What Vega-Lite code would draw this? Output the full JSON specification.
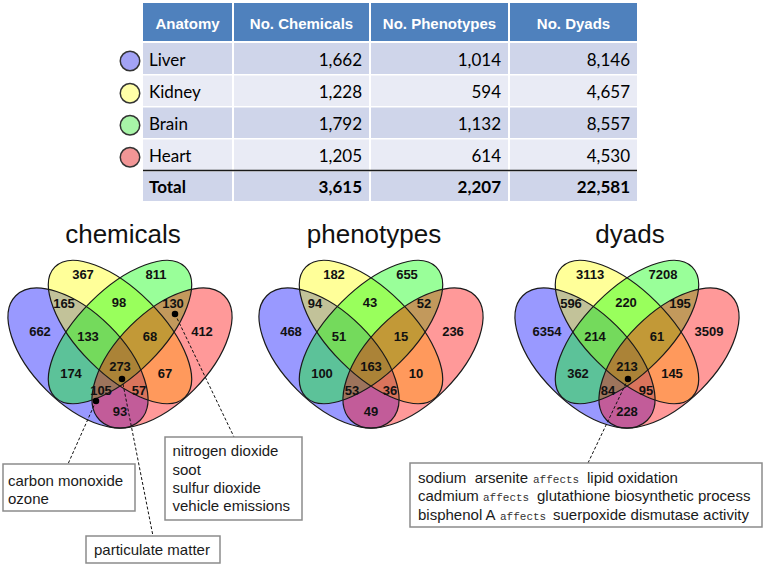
{
  "$schema": "https://vega.github.io/schema/vega-lite/v6.json",
  "width": 766,
  "height": 564,
  "autosize": {"type": "fit", "contains": "padding"},
  "padding": 0,
  "background": "#ffffff",
  "config": {"view": {"stroke": null}},
  "datasets": {
    "cols": [
      {"col": "key", "x0": 120, "x1": 140, "xm": 130},
      {"col": "Anatomy", "x0": 143, "x1": 232, "xm": 187.5},
      {"col": "No. Chemicals", "x0": 234, "x1": 369, "xm": 301.5},
      {"col": "No. Phenotypes", "x0": 371, "x1": 508, "xm": 439.5},
      {"col": "No. Dyads", "x0": 510, "x1": 637, "xm": 573.5}
    ],
    "rows": [
      {"row": "header", "y0": 3, "y1": 41, "ym": 22, "band": "header"},
      {"row": "Liver", "y0": 43, "y1": 74, "ym": 58.5, "band": "dark"},
      {"row": "Kidney", "y0": 75.5, "y1": 106, "ym": 90.75, "band": "light"},
      {"row": "Brain", "y0": 107.5, "y1": 138, "ym": 122.75, "band": "dark"},
      {"row": "Heart", "y0": 139.5, "y1": 170, "ym": 154.75, "band": "light"},
      {"row": "Total", "y0": 171.5, "y1": 201, "ym": 186.25, "band": "dark"}
    ],
    "cells": [
      {"row": "header", "col": "Anatomy", "label": "Anatomy"},
      {"row": "header", "col": "No. Chemicals", "label": "No. Chemicals"},
      {"row": "header", "col": "No. Phenotypes", "label": "No. Phenotypes"},
      {"row": "header", "col": "No. Dyads", "label": "No. Dyads"},
      {"row": "Liver", "col": "key", "label": ""},
      {"row": "Liver", "col": "Anatomy", "label": "Liver"},
      {"row": "Liver", "col": "No. Chemicals", "label": "1,662"},
      {"row": "Liver", "col": "No. Phenotypes", "label": "1,014"},
      {"row": "Liver", "col": "No. Dyads", "label": "8,146"},
      {"row": "Kidney", "col": "key", "label": ""},
      {"row": "Kidney", "col": "Anatomy", "label": "Kidney"},
      {"row": "Kidney", "col": "No. Chemicals", "label": "1,228"},
      {"row": "Kidney", "col": "No. Phenotypes", "label": "594"},
      {"row": "Kidney", "col": "No. Dyads", "label": "4,657"},
      {"row": "Brain", "col": "key", "label": ""},
      {"row": "Brain", "col": "Anatomy", "label": "Brain"},
      {"row": "Brain", "col": "No. Chemicals", "label": "1,792"},
      {"row": "Brain", "col": "No. Phenotypes", "label": "1,132"},
      {"row": "Brain", "col": "No. Dyads", "label": "8,557"},
      {"row": "Heart", "col": "key", "label": ""},
      {"row": "Heart", "col": "Anatomy", "label": "Heart"},
      {"row": "Heart", "col": "No. Chemicals", "label": "1,205"},
      {"row": "Heart", "col": "No. Phenotypes", "label": "614"},
      {"row": "Heart", "col": "No. Dyads", "label": "4,530"},
      {"row": "Total", "col": "Anatomy", "label": "Total"},
      {"row": "Total", "col": "No. Chemicals", "label": "3,615"},
      {"row": "Total", "col": "No. Phenotypes", "label": "2,207"},
      {"row": "Total", "col": "No. Dyads", "label": "22,581"}
    ],
    "tableLine": [{"lx0": 143, "lx1": 637, "ly": 170.5}],
    "ellipses": [
      {"set": "Liver", "u": -42, "y": 358},
      {"set": "Kidney", "u": 0, "y": 332},
      {"set": "Brain", "u": 0, "y": 332},
      {"set": "Heart", "u": 42, "y": 358}
    ],
    "regions": [
      {"region": "K", "u": -37, "y": 275},
      {"region": "B", "u": 36, "y": 275},
      {"region": "LK", "u": -56, "y": 304},
      {"region": "KB", "u": -1, "y": 303},
      {"region": "BH", "u": 53, "y": 304},
      {"region": "L", "u": -80, "y": 332},
      {"region": "H", "u": 82, "y": 332},
      {"region": "LKB", "u": -32, "y": 337},
      {"region": "KBH", "u": 30, "y": 337},
      {"region": "LB", "u": -49, "y": 374},
      {"region": "LKBH", "u": 0, "y": 367},
      {"region": "KH", "u": 45, "y": 374},
      {"region": "LBH", "u": -19, "y": 391},
      {"region": "LKH", "u": 19, "y": 391},
      {"region": "LH", "u": 0, "y": 412}
    ],
    "counts": [
      {"diagram": "chemicals", "region": "K", "n": 367},
      {"diagram": "chemicals", "region": "B", "n": 811},
      {"diagram": "chemicals", "region": "LK", "n": 165},
      {"diagram": "chemicals", "region": "KB", "n": 98},
      {"diagram": "chemicals", "region": "BH", "n": 130},
      {"diagram": "chemicals", "region": "L", "n": 662},
      {"diagram": "chemicals", "region": "H", "n": 412},
      {"diagram": "chemicals", "region": "LKB", "n": 133},
      {"diagram": "chemicals", "region": "KBH", "n": 68},
      {"diagram": "chemicals", "region": "LB", "n": 174},
      {"diagram": "chemicals", "region": "LKBH", "n": 273},
      {"diagram": "chemicals", "region": "KH", "n": 67},
      {"diagram": "chemicals", "region": "LBH", "n": 105},
      {"diagram": "chemicals", "region": "LKH", "n": 57},
      {"diagram": "chemicals", "region": "LH", "n": 93},
      {"diagram": "phenotypes", "region": "K", "n": 182},
      {"diagram": "phenotypes", "region": "B", "n": 655},
      {"diagram": "phenotypes", "region": "LK", "n": 94},
      {"diagram": "phenotypes", "region": "KB", "n": 43},
      {"diagram": "phenotypes", "region": "BH", "n": 52},
      {"diagram": "phenotypes", "region": "L", "n": 468},
      {"diagram": "phenotypes", "region": "H", "n": 236},
      {"diagram": "phenotypes", "region": "LKB", "n": 51},
      {"diagram": "phenotypes", "region": "KBH", "n": 15},
      {"diagram": "phenotypes", "region": "LB", "n": 100},
      {"diagram": "phenotypes", "region": "LKBH", "n": 163},
      {"diagram": "phenotypes", "region": "KH", "n": 10},
      {"diagram": "phenotypes", "region": "LBH", "n": 53},
      {"diagram": "phenotypes", "region": "LKH", "n": 36},
      {"diagram": "phenotypes", "region": "LH", "n": 49},
      {"diagram": "dyads", "region": "K", "n": 3113},
      {"diagram": "dyads", "region": "B", "n": 7208},
      {"diagram": "dyads", "region": "LK", "n": 596},
      {"diagram": "dyads", "region": "KB", "n": 220},
      {"diagram": "dyads", "region": "BH", "n": 195},
      {"diagram": "dyads", "region": "L", "n": 6354},
      {"diagram": "dyads", "region": "H", "n": 3509},
      {"diagram": "dyads", "region": "LKB", "n": 214},
      {"diagram": "dyads", "region": "KBH", "n": 61},
      {"diagram": "dyads", "region": "LB", "n": 362},
      {"diagram": "dyads", "region": "LKBH", "n": 213},
      {"diagram": "dyads", "region": "KH", "n": 145},
      {"diagram": "dyads", "region": "LBH", "n": 84},
      {"diagram": "dyads", "region": "LKH", "n": 95},
      {"diagram": "dyads", "region": "LH", "n": 228}
    ],
    "titles": [
      {"diagram": "chemicals", "u": 3, "y": 243},
      {"diagram": "phenotypes", "u": 3, "y": 243},
      {"diagram": "dyads", "u": 3, "y": 243}
    ],
    "leaders": [
      {"x": 175, "y": 314, "x2": 234, "y2": 437},
      {"x": 122, "y": 379, "x2": 153, "y2": 536},
      {"x": 96, "y": 401, "x2": 68, "y2": 464},
      {"x": 628, "y": 379, "x2": 588, "y2": 463}
    ],
    "boxes": [
      {"x0": 3, "x1": 135, "y0": 464, "y1": 511},
      {"x0": 165, "x1": 302, "y0": 437, "y1": 520},
      {"x0": 86, "x1": 220, "y0": 536, "y1": 563},
      {"x0": 410, "x1": 762, "y0": 463, "y1": 527}
    ],
    "notes": [
      {"kind": "term", "x": 8, "y": 485.5, "text": "carbon monoxide"},
      {"kind": "term", "x": 8, "y": 503.5, "text": "ozone"},
      {"kind": "term", "x": 172.5, "y": 456, "text": "nitrogen dioxide"},
      {"kind": "term", "x": 172.5, "y": 474.5, "text": "soot"},
      {"kind": "term", "x": 172.5, "y": 493, "text": "sulfur dioxide"},
      {"kind": "term", "x": 172.5, "y": 511, "text": "vehicle emissions"},
      {"kind": "term", "x": 94, "y": 555, "text": "particulate matter"},
      {"kind": "term", "x": 418, "y": 482.5, "text": "sodium\u00a0 arsenite"},
      {"kind": "verb", "x": 533, "y": 482.5, "text": "affects"},
      {"kind": "term", "x": 587, "y": 482.5, "text": "lipid oxidation"},
      {"kind": "term", "x": 418, "y": 501, "text": "cadmium"},
      {"kind": "verb", "x": 483, "y": 501, "text": "affects"},
      {"kind": "term", "x": 537, "y": 501, "text": "glutathione biosynthetic process"},
      {"kind": "term", "x": 418, "y": 519.5, "text": "bisphenol A"},
      {"kind": "verb", "x": 500, "y": 519.5, "text": "affects"},
      {"kind": "term", "x": 553, "y": 519.5, "text": "suerpoxide dismutase activity"}
    ]
  },
  "resolve": {"scale": {"x": "independent", "y": "independent", "color": "independent", "shape": "independent", "fill": "independent"}},
  "layer": [
    {
      "data": {"name": "cells"},
      "transform": [
        {"lookup": "col", "from": {"data": {"name": "cols"}, "key": "col", "fields": ["x0", "x1", "xm"]}},
        {"lookup": "row", "from": {"data": {"name": "rows"}, "key": "row", "fields": ["y0", "y1", "ym", "band"]}}
      ],
      "layer": [
        {
          "transform": [{"filter": "datum.col !== 'key'"}],
          "mark": {"type": "rect"},
          "encoding": {
            "x": {"field": "x0", "type": "quantitative", "scale": {"domain": [0, 766], "nice": false, "zero": false}, "axis": null},
            "x2": {"field": "x1"},
            "y": {"field": "y0", "type": "quantitative", "scale": {"domain": [0, 564], "reverse": true, "nice": false, "zero": false}, "axis": null},
            "y2": {"field": "y1"},
            "color": {"field": "band", "type": "nominal", "scale": {"domain": ["header", "dark", "light"], "range": ["#4f81bd", "#cfd5ea", "#e9ebf5"]}, "legend": null}
          }
        },
        {
          "data": {"name": "tableLine"},
          "mark": {"type": "rule", "color": "#1a1a1a", "strokeWidth": 1.5},
          "encoding": {
            "x": {"field": "lx0", "type": "quantitative", "scale": {"domain": [0, 766], "nice": false, "zero": false}, "axis": null},
            "x2": {"field": "lx1"},
            "y": {"field": "ly", "type": "quantitative", "scale": {"domain": [0, 564], "reverse": true, "nice": false, "zero": false}, "axis": null}
          }
        },
        {
          "transform": [{"filter": "datum.row === 'header'"}],
          "mark": {"type": "text", "font": "Liberation Sans", "fontWeight": "bold", "fontSize": 15, "color": "#ffffff", "align": "center", "baseline": "middle", "dy": 2},
          "encoding": {
            "x": {"field": "xm", "type": "quantitative", "scale": {"domain": [0, 766], "nice": false, "zero": false}, "axis": null},
            "y": {"field": "ym", "type": "quantitative", "scale": {"domain": [0, 564], "reverse": true, "nice": false, "zero": false}, "axis": null},
            "text": {"field": "label", "type": "nominal"}
          }
        },
        {
          "transform": [{"filter": "datum.col === 'Anatomy' && datum.row !== 'header' && datum.row !== 'Total'"}],
          "mark": {"type": "text", "font": "Lato", "fontSize": 17, "color": "#000000", "align": "left", "baseline": "middle", "dx": 6, "dy": 2},
          "encoding": {
            "x": {"field": "x0", "type": "quantitative", "scale": {"domain": [0, 766], "nice": false, "zero": false}, "axis": null},
            "y": {"field": "ym", "type": "quantitative", "scale": {"domain": [0, 564], "reverse": true, "nice": false, "zero": false}, "axis": null},
            "text": {"field": "label", "type": "nominal"}
          }
        },
        {
          "transform": [{"filter": "datum.col === 'Anatomy' && datum.row === 'Total'"}],
          "mark": {"type": "text", "font": "Lato", "fontSize": 17, "fontWeight": "bold", "color": "#000000", "align": "left", "baseline": "middle", "dx": 6, "dy": 2},
          "encoding": {
            "x": {"field": "x0", "type": "quantitative", "scale": {"domain": [0, 766], "nice": false, "zero": false}, "axis": null},
            "y": {"field": "ym", "type": "quantitative", "scale": {"domain": [0, 564], "reverse": true, "nice": false, "zero": false}, "axis": null},
            "text": {"field": "label", "type": "nominal"}
          }
        },
        {
          "transform": [{"filter": "datum.col !== 'Anatomy' && datum.col !== 'key' && datum.row !== 'header' && datum.row !== 'Total'"}],
          "mark": {"type": "text", "font": "Lato", "fontSize": 17, "color": "#000000", "align": "right", "baseline": "middle", "dx": -7, "dy": 2},
          "encoding": {
            "x": {"field": "x1", "type": "quantitative", "scale": {"domain": [0, 766], "nice": false, "zero": false}, "axis": null},
            "y": {"field": "ym", "type": "quantitative", "scale": {"domain": [0, 564], "reverse": true, "nice": false, "zero": false}, "axis": null},
            "text": {"field": "label", "type": "nominal"}
          }
        },
        {
          "transform": [{"filter": "datum.col !== 'Anatomy' && datum.col !== 'key' && datum.row === 'Total'"}],
          "mark": {"type": "text", "font": "Lato", "fontSize": 17, "fontWeight": "bold", "color": "#000000", "align": "right", "baseline": "middle", "dx": -7, "dy": 2},
          "encoding": {
            "x": {"field": "x1", "type": "quantitative", "scale": {"domain": [0, 766], "nice": false, "zero": false}, "axis": null},
            "y": {"field": "ym", "type": "quantitative", "scale": {"domain": [0, 564], "reverse": true, "nice": false, "zero": false}, "axis": null},
            "text": {"field": "label", "type": "nominal"}
          }
        },
        {
          "transform": [{"filter": "datum.col === 'key'"}],
          "mark": {"type": "point", "shape": "circle", "filled": true, "size": 380, "stroke": "#333333", "strokeWidth": 1.5, "opacity": 1},
          "encoding": {
            "x": {"field": "xm", "type": "quantitative", "scale": {"domain": [0, 766], "nice": false, "zero": false}, "axis": null},
            "y": {"field": "ym", "type": "quantitative", "scale": {"domain": [0, 564], "reverse": true, "nice": false, "zero": false}, "axis": null},
            "yOffset": {"value": 2.5},
            "fill": {"field": "row", "type": "nominal", "scale": {"domain": ["Liver", "Kidney", "Brain", "Heart"], "range": ["#a3a3f5", "#ffffa8", "#a8f5a8", "#f29696"]}, "legend": null}
          }
        }
      ]
    },
    {
      "layer": [
        {
          "data": {"name": "ellipses"},
          "mark": {"type": "point", "filled": true, "size": 30976, "fillOpacity": 0.4, "opacity": 1, "strokeWidth": 0},
          "encoding": {
            "x": {"field": "u", "type": "quantitative", "scale": {"domain": [-120, 646], "nice": false, "zero": false}, "axis": null},
            "y": {"field": "y", "type": "quantitative", "scale": {"domain": [0, 564], "reverse": true, "nice": false, "zero": false}, "axis": null},
            "shape": {"field": "set", "type": "nominal", "scale": {"domain": ["Liver", "Kidney", "Brain", "Heart"], "range": ["M -0.70711 -0.70711 A 1 0.51136 45 1 0 0.70711 0.70711 A 1 0.51136 45 1 0 -0.70711 -0.70711 Z", "M -0.73925 -0.73925 A 1.04545 0.47727 45 1 0 0.73925 0.73925 A 1.04545 0.47727 45 1 0 -0.73925 -0.73925 Z", "M -0.73925 0.73925 A 1.04545 0.47727 -45 1 0 0.73925 -0.73925 A 1.04545 0.47727 -45 1 0 -0.73925 0.73925 Z", "M -0.70711 0.70711 A 1 0.51136 -45 1 0 0.70711 -0.70711 A 1 0.51136 -45 1 0 -0.70711 0.70711 Z"]}, "legend": null},
            "color": {"field": "set", "type": "nominal", "scale": {"domain": ["Liver", "Kidney", "Brain", "Heart"], "range": ["#0000ff", "#ffff00", "#00ff00", "#ff0000"]}, "legend": null}
          }
        },
        {
          "data": {"name": "ellipses"},
          "mark": {"type": "point", "filled": false, "size": 30976, "opacity": 1, "color": "#1a1a1a", "strokeWidth": 1.2},
          "encoding": {
            "x": {"field": "u", "type": "quantitative", "scale": {"domain": [-120, 646], "nice": false, "zero": false}, "axis": null},
            "y": {"field": "y", "type": "quantitative", "scale": {"domain": [0, 564], "reverse": true, "nice": false, "zero": false}, "axis": null},
            "shape": {"field": "set", "type": "nominal", "scale": {"domain": ["Liver", "Kidney", "Brain", "Heart"], "range": ["M -0.70711 -0.70711 A 1 0.51136 45 1 0 0.70711 0.70711 A 1 0.51136 45 1 0 -0.70711 -0.70711 Z", "M -0.73925 -0.73925 A 1.04545 0.47727 45 1 0 0.73925 0.73925 A 1.04545 0.47727 45 1 0 -0.73925 -0.73925 Z", "M -0.73925 0.73925 A 1.04545 0.47727 -45 1 0 0.73925 -0.73925 A 1.04545 0.47727 -45 1 0 -0.73925 0.73925 Z", "M -0.70711 0.70711 A 1 0.51136 -45 1 0 0.70711 -0.70711 A 1 0.51136 -45 1 0 -0.70711 0.70711 Z"]}, "legend": null}
          }
        },
        {
          "data": {"name": "counts"},
          "transform": [
            {"filter": "datum.diagram === 'chemicals'"},
            {"lookup": "region", "from": {"data": {"name": "regions"}, "key": "region", "fields": ["u", "y"]}}
          ],
          "mark": {"type": "text", "font": "Liberation Sans", "fontWeight": "bold", "fontSize": 13, "color": "#111111", "align": "center", "baseline": "middle"},
          "encoding": {
            "x": {"field": "u", "type": "quantitative", "scale": {"domain": [-120, 646], "nice": false, "zero": false}, "axis": null},
            "y": {"field": "y", "type": "quantitative", "scale": {"domain": [0, 564], "reverse": true, "nice": false, "zero": false}, "axis": null},
            "text": {"field": "n", "type": "nominal"}
          }
        },
        {
          "data": {"name": "titles"},
          "transform": [{"filter": "datum.diagram === 'chemicals'"}],
          "mark": {"type": "text", "font": "Liberation Sans", "fontSize": 26, "color": "#111111", "align": "center", "baseline": "alphabetic"},
          "encoding": {
            "x": {"field": "u", "type": "quantitative", "scale": {"domain": [-120, 646], "nice": false, "zero": false}, "axis": null},
            "y": {"field": "y", "type": "quantitative", "scale": {"domain": [0, 564], "reverse": true, "nice": false, "zero": false}, "axis": null},
            "text": {"field": "diagram", "type": "nominal"}
          }
        }
      ]
    },
    {
      "layer": [
        {
          "data": {"name": "ellipses"},
          "mark": {"type": "point", "filled": true, "size": 30976, "fillOpacity": 0.4, "opacity": 1, "strokeWidth": 0},
          "encoding": {
            "x": {"field": "u", "type": "quantitative", "scale": {"domain": [-371, 395], "nice": false, "zero": false}, "axis": null},
            "y": {"field": "y", "type": "quantitative", "scale": {"domain": [0, 564], "reverse": true, "nice": false, "zero": false}, "axis": null},
            "shape": {"field": "set", "type": "nominal", "scale": {"domain": ["Liver", "Kidney", "Brain", "Heart"], "range": ["M -0.70711 -0.70711 A 1 0.51136 45 1 0 0.70711 0.70711 A 1 0.51136 45 1 0 -0.70711 -0.70711 Z", "M -0.73925 -0.73925 A 1.04545 0.47727 45 1 0 0.73925 0.73925 A 1.04545 0.47727 45 1 0 -0.73925 -0.73925 Z", "M -0.73925 0.73925 A 1.04545 0.47727 -45 1 0 0.73925 -0.73925 A 1.04545 0.47727 -45 1 0 -0.73925 0.73925 Z", "M -0.70711 0.70711 A 1 0.51136 -45 1 0 0.70711 -0.70711 A 1 0.51136 -45 1 0 -0.70711 0.70711 Z"]}, "legend": null},
            "color": {"field": "set", "type": "nominal", "scale": {"domain": ["Liver", "Kidney", "Brain", "Heart"], "range": ["#0000ff", "#ffff00", "#00ff00", "#ff0000"]}, "legend": null}
          }
        },
        {
          "data": {"name": "ellipses"},
          "mark": {"type": "point", "filled": false, "size": 30976, "opacity": 1, "color": "#1a1a1a", "strokeWidth": 1.2},
          "encoding": {
            "x": {"field": "u", "type": "quantitative", "scale": {"domain": [-371, 395], "nice": false, "zero": false}, "axis": null},
            "y": {"field": "y", "type": "quantitative", "scale": {"domain": [0, 564], "reverse": true, "nice": false, "zero": false}, "axis": null},
            "shape": {"field": "set", "type": "nominal", "scale": {"domain": ["Liver", "Kidney", "Brain", "Heart"], "range": ["M -0.70711 -0.70711 A 1 0.51136 45 1 0 0.70711 0.70711 A 1 0.51136 45 1 0 -0.70711 -0.70711 Z", "M -0.73925 -0.73925 A 1.04545 0.47727 45 1 0 0.73925 0.73925 A 1.04545 0.47727 45 1 0 -0.73925 -0.73925 Z", "M -0.73925 0.73925 A 1.04545 0.47727 -45 1 0 0.73925 -0.73925 A 1.04545 0.47727 -45 1 0 -0.73925 0.73925 Z", "M -0.70711 0.70711 A 1 0.51136 -45 1 0 0.70711 -0.70711 A 1 0.51136 -45 1 0 -0.70711 0.70711 Z"]}, "legend": null}
          }
        },
        {
          "data": {"name": "counts"},
          "transform": [
            {"filter": "datum.diagram === 'phenotypes'"},
            {"lookup": "region", "from": {"data": {"name": "regions"}, "key": "region", "fields": ["u", "y"]}}
          ],
          "mark": {"type": "text", "font": "Liberation Sans", "fontWeight": "bold", "fontSize": 13, "color": "#111111", "align": "center", "baseline": "middle"},
          "encoding": {
            "x": {"field": "u", "type": "quantitative", "scale": {"domain": [-371, 395], "nice": false, "zero": false}, "axis": null},
            "y": {"field": "y", "type": "quantitative", "scale": {"domain": [0, 564], "reverse": true, "nice": false, "zero": false}, "axis": null},
            "text": {"field": "n", "type": "nominal"}
          }
        },
        {
          "data": {"name": "titles"},
          "transform": [{"filter": "datum.diagram === 'phenotypes'"}],
          "mark": {"type": "text", "font": "Liberation Sans", "fontSize": 26, "color": "#111111", "align": "center", "baseline": "alphabetic"},
          "encoding": {
            "x": {"field": "u", "type": "quantitative", "scale": {"domain": [-371, 395], "nice": false, "zero": false}, "axis": null},
            "y": {"field": "y", "type": "quantitative", "scale": {"domain": [0, 564], "reverse": true, "nice": false, "zero": false}, "axis": null},
            "text": {"field": "diagram", "type": "nominal"}
          }
        }
      ]
    },
    {
      "layer": [
        {
          "data": {"name": "ellipses"},
          "mark": {"type": "point", "filled": true, "size": 30976, "fillOpacity": 0.4, "opacity": 1, "strokeWidth": 0},
          "encoding": {
            "x": {"field": "u", "type": "quantitative", "scale": {"domain": [-627, 139], "nice": false, "zero": false}, "axis": null},
            "y": {"field": "y", "type": "quantitative", "scale": {"domain": [0, 564], "reverse": true, "nice": false, "zero": false}, "axis": null},
            "shape": {"field": "set", "type": "nominal", "scale": {"domain": ["Liver", "Kidney", "Brain", "Heart"], "range": ["M -0.70711 -0.70711 A 1 0.51136 45 1 0 0.70711 0.70711 A 1 0.51136 45 1 0 -0.70711 -0.70711 Z", "M -0.73925 -0.73925 A 1.04545 0.47727 45 1 0 0.73925 0.73925 A 1.04545 0.47727 45 1 0 -0.73925 -0.73925 Z", "M -0.73925 0.73925 A 1.04545 0.47727 -45 1 0 0.73925 -0.73925 A 1.04545 0.47727 -45 1 0 -0.73925 0.73925 Z", "M -0.70711 0.70711 A 1 0.51136 -45 1 0 0.70711 -0.70711 A 1 0.51136 -45 1 0 -0.70711 0.70711 Z"]}, "legend": null},
            "color": {"field": "set", "type": "nominal", "scale": {"domain": ["Liver", "Kidney", "Brain", "Heart"], "range": ["#0000ff", "#ffff00", "#00ff00", "#ff0000"]}, "legend": null}
          }
        },
        {
          "data": {"name": "ellipses"},
          "mark": {"type": "point", "filled": false, "size": 30976, "opacity": 1, "color": "#1a1a1a", "strokeWidth": 1.2},
          "encoding": {
            "x": {"field": "u", "type": "quantitative", "scale": {"domain": [-627, 139], "nice": false, "zero": false}, "axis": null},
            "y": {"field": "y", "type": "quantitative", "scale": {"domain": [0, 564], "reverse": true, "nice": false, "zero": false}, "axis": null},
            "shape": {"field": "set", "type": "nominal", "scale": {"domain": ["Liver", "Kidney", "Brain", "Heart"], "range": ["M -0.70711 -0.70711 A 1 0.51136 45 1 0 0.70711 0.70711 A 1 0.51136 45 1 0 -0.70711 -0.70711 Z", "M -0.73925 -0.73925 A 1.04545 0.47727 45 1 0 0.73925 0.73925 A 1.04545 0.47727 45 1 0 -0.73925 -0.73925 Z", "M -0.73925 0.73925 A 1.04545 0.47727 -45 1 0 0.73925 -0.73925 A 1.04545 0.47727 -45 1 0 -0.73925 0.73925 Z", "M -0.70711 0.70711 A 1 0.51136 -45 1 0 0.70711 -0.70711 A 1 0.51136 -45 1 0 -0.70711 0.70711 Z"]}, "legend": null}
          }
        },
        {
          "data": {"name": "counts"},
          "transform": [
            {"filter": "datum.diagram === 'dyads'"},
            {"lookup": "region", "from": {"data": {"name": "regions"}, "key": "region", "fields": ["u", "y"]}}
          ],
          "mark": {"type": "text", "font": "Liberation Sans", "fontWeight": "bold", "fontSize": 13, "color": "#111111", "align": "center", "baseline": "middle"},
          "encoding": {
            "x": {"field": "u", "type": "quantitative", "scale": {"domain": [-627, 139], "nice": false, "zero": false}, "axis": null},
            "y": {"field": "y", "type": "quantitative", "scale": {"domain": [0, 564], "reverse": true, "nice": false, "zero": false}, "axis": null},
            "text": {"field": "n", "type": "nominal"}
          }
        },
        {
          "data": {"name": "titles"},
          "transform": [{"filter": "datum.diagram === 'dyads'"}],
          "mark": {"type": "text", "font": "Liberation Sans", "fontSize": 26, "color": "#111111", "align": "center", "baseline": "alphabetic"},
          "encoding": {
            "x": {"field": "u", "type": "quantitative", "scale": {"domain": [-627, 139], "nice": false, "zero": false}, "axis": null},
            "y": {"field": "y", "type": "quantitative", "scale": {"domain": [0, 564], "reverse": true, "nice": false, "zero": false}, "axis": null},
            "text": {"field": "diagram", "type": "nominal"}
          }
        }
      ]
    },
    {
      "layer": [
        {
          "data": {"name": "leaders"},
          "mark": {"type": "rule", "color": "#111111", "strokeWidth": 1, "strokeDash": [3, 2]},
          "encoding": {
            "x": {"field": "x", "type": "quantitative", "scale": {"domain": [0, 766], "nice": false, "zero": false}, "axis": null},
            "y": {"field": "y", "type": "quantitative", "scale": {"domain": [0, 564], "reverse": true, "nice": false, "zero": false}, "axis": null},
            "x2": {"field": "x2"},
            "y2": {"field": "y2"}
          }
        },
        {
          "data": {"name": "leaders"},
          "mark": {"type": "point", "shape": "circle", "filled": true, "size": 42, "color": "#000000", "opacity": 1},
          "encoding": {
            "x": {"field": "x", "type": "quantitative", "scale": {"domain": [0, 766], "nice": false, "zero": false}, "axis": null},
            "y": {"field": "y", "type": "quantitative", "scale": {"domain": [0, 564], "reverse": true, "nice": false, "zero": false}, "axis": null}
          }
        },
        {
          "data": {"name": "boxes"},
          "mark": {"type": "rect", "fill": "#ffffff", "stroke": "#8c8c8c", "strokeWidth": 1.5},
          "encoding": {
            "x": {"field": "x0", "type": "quantitative", "scale": {"domain": [0, 766], "nice": false, "zero": false}, "axis": null},
            "x2": {"field": "x1"},
            "y": {"field": "y0", "type": "quantitative", "scale": {"domain": [0, 564], "reverse": true, "nice": false, "zero": false}, "axis": null},
            "y2": {"field": "y1"}
          }
        },
        {
          "data": {"name": "notes"},
          "transform": [{"filter": "datum.kind === 'term'"}],
          "mark": {"type": "text", "font": "Liberation Sans", "fontSize": 15, "color": "#1a1a1a", "align": "left", "baseline": "alphabetic"},
          "encoding": {
            "x": {"field": "x", "type": "quantitative", "scale": {"domain": [0, 766], "nice": false, "zero": false}, "axis": null},
            "y": {"field": "y", "type": "quantitative", "scale": {"domain": [0, 564], "reverse": true, "nice": false, "zero": false}, "axis": null},
            "text": {"field": "text", "type": "nominal"}
          }
        },
        {
          "data": {"name": "notes"},
          "transform": [{"filter": "datum.kind === 'verb'"}],
          "mark": {"type": "text", "font": "Liberation Mono", "fontSize": 11, "color": "#333333", "align": "left", "baseline": "alphabetic"},
          "encoding": {
            "x": {"field": "x", "type": "quantitative", "scale": {"domain": [0, 766], "nice": false, "zero": false}, "axis": null},
            "y": {"field": "y", "type": "quantitative", "scale": {"domain": [0, 564], "reverse": true, "nice": false, "zero": false}, "axis": null},
            "text": {"field": "text", "type": "nominal"}
          }
        }
      ]
    }
  ]
}
